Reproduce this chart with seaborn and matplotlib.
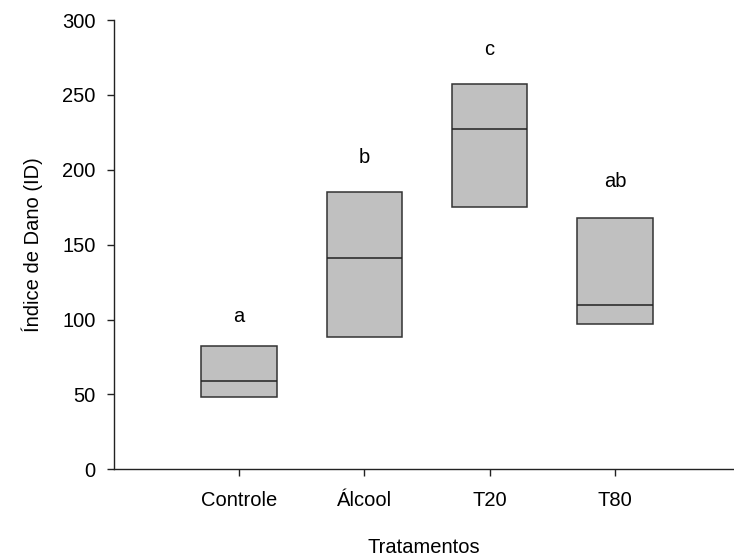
import pandas as pd
import seaborn as sns
import matplotlib.pyplot as plt

# values (box = Q1, median, Q3)
groups = ["Controle", "Álcool", "T20", "T80"]
q1 = [48, 88, 175, 97]
median = [59, 141, 227, 110]
q3 = [82, 185, 257, 168]
letters = ["a", "b", "c", "ab"]
letter_y = [102, 208, 280, 192]

# five points per group give exactly these quartiles
rows = []
for g, a, m, b in zip(groups, q1, median, q3):
    for v in (a, a, m, b, b):
        rows.append({"Tratamentos": g, "ID": v})
df = pd.DataFrame(rows)

sns.set_style("ticks")
plt.rcParams["font.family"] = ["Liberation Sans", "DejaVu Sans"]
plt.rcParams["text.color"] = "black"
plt.rcParams["axes.labelcolor"] = "black"
plt.rcParams["xtick.color"] = "black"
plt.rcParams["ytick.color"] = "black"

fig = plt.figure(figsize=(7.34, 5.56), dpi=100)
ax = fig.add_axes([0.155, 0.156, 0.845, 0.808])

sns.boxplot(data=df, x="Tratamentos", y="ID", order=groups, ax=ax,
            color="#c0c0c0", width=0.6, whis=0, showcaps=False,
            showfliers=False,
            boxprops=dict(edgecolor="#333333", linewidth=1.1),
            medianprops=dict(color="#222222", linewidth=1.1),
            whiskerprops=dict(linewidth=0))

for i, (t, y) in enumerate(zip(letters, letter_y)):
    ax.text(i, y, t, ha="center", va="center", fontsize=14.5)

ax.set_xlim(-1, 3.95)
ax.set_ylim(0, 300)
ax.set_yticks(range(0, 301, 50))
ax.set_xlabel("Tratamentos", fontsize=14.5, labelpad=20)
ax.set_ylabel("Índice de Dano (ID)", fontsize=14.5, labelpad=14)
ax.tick_params(axis="both", labelsize=14.5, direction="out", length=5,
               width=1, color="#222222")
ax.tick_params(axis="x", pad=11)
ax.tick_params(axis="y", pad=8)
for s in ("left", "bottom"):
    ax.spines[s].set_color("#222222")
    ax.spines[s].set_linewidth(1)
sns.despine(ax=ax)

fig.savefig("out.png", dpi=100)
